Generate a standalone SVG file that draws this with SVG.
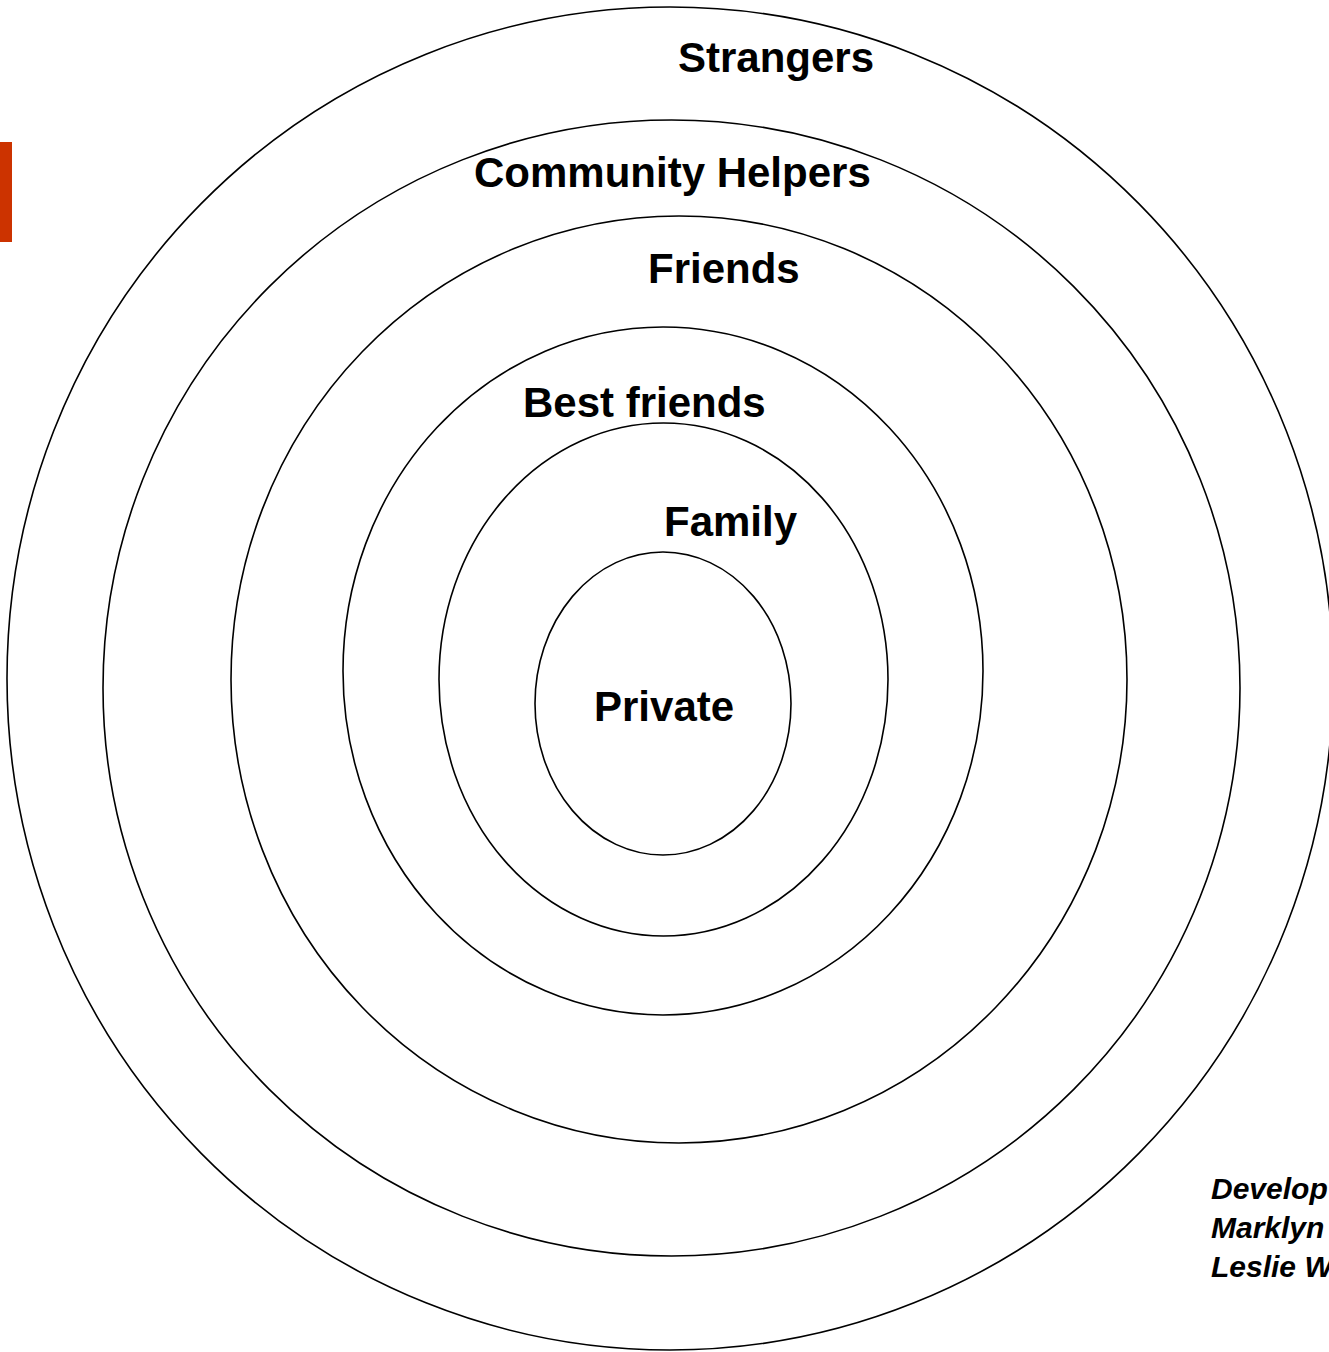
<svg xmlns="http://www.w3.org/2000/svg" width="1329" height="1352" viewBox="0 0 1329 1352">
<style>
.ring{fill:none;stroke:#000;stroke-width:1.6}
.lbl{font-family:"Liberation Sans",Arial,sans-serif;font-weight:bold;font-size:42px;fill:#000}
.credit{font-family:"Liberation Sans",Arial,sans-serif;font-weight:bold;font-style:italic;font-size:30px;fill:#000}
</style>
<rect width="1329" height="1352" fill="#fff"/>
<rect id="accent" x="0" y="142" width="12" height="100" fill="#CC3300"/>
<g id="strangers"><ellipse class="ring" cx="670" cy="678.5" rx="663" ry="671.5"/><text class="lbl" x="678" y="72">Strangers</text></g>
<g id="community-helpers"><ellipse class="ring" cx="671.5" cy="688" rx="568.5" ry="568"/><text class="lbl" x="474" y="187">Community Helpers</text></g>
<g id="friends"><ellipse class="ring" cx="679" cy="679.5" rx="448" ry="463.5"/><text class="lbl" x="648" y="283">Friends</text></g>
<g id="best-friends"><ellipse class="ring" cx="663" cy="671" rx="320" ry="344"/><text class="lbl" x="523" y="417">Best friends</text></g>
<g id="family"><ellipse class="ring" cx="663.5" cy="679.5" rx="224.5" ry="256.5"/><text class="lbl" x="664" y="536">Family</text></g>
<g id="private"><ellipse class="ring" cx="663" cy="703.5" rx="128" ry="151.5"/><text class="lbl" x="594" y="721">Private</text></g>
<g id="connectors"/>
<g id="credit">
<text class="credit" x="1211" y="1199">Develop</text>
<text class="credit" x="1211" y="1238">Marklyn</text>
<text class="credit" x="1211" y="1277">Leslie W</text>
</g>
</svg>
